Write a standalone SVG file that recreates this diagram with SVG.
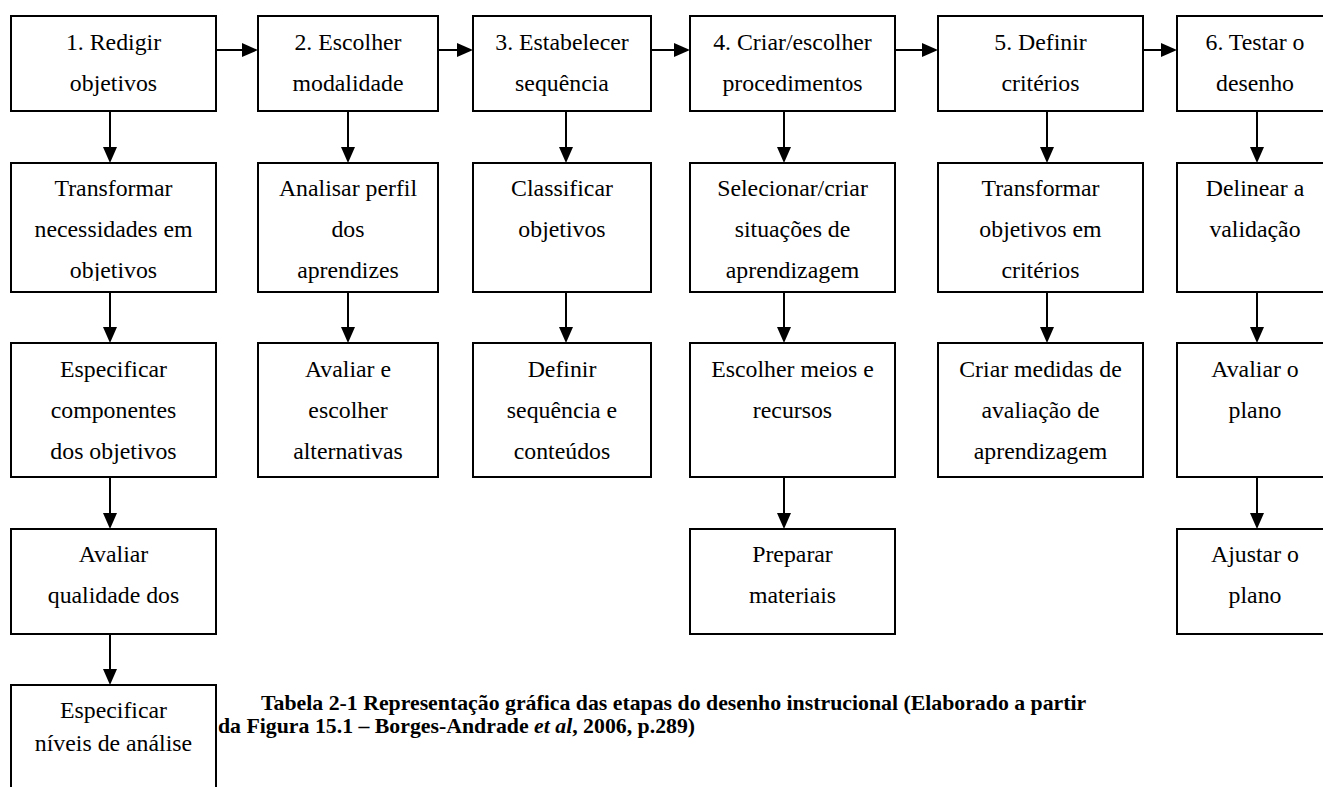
<svg xmlns="http://www.w3.org/2000/svg" width="1323" height="787" viewBox="0 0 1323 787">
<style>
.box{fill:#fff;stroke:#000;stroke-width:2}
.t{font-family:"Liberation Serif","Times New Roman",serif;font-size:23.8px;fill:#000;text-anchor:middle}
.cap{font-family:"Liberation Serif","Times New Roman",serif;font-size:21.8px;font-weight:bold;fill:#000}
.c{stroke:#000;stroke-width:2;fill:none;marker-end:url(#ah)}
</style>
<defs>
<marker id="ah" markerWidth="16" markerHeight="14" refX="6" refY="7" orient="auto" markerUnits="userSpaceOnUse"><path d="M0,0 L16,7 L0,14 z" fill="#000"/></marker>
<clipPath id="clipA"><rect x="11" y="163" width="205" height="118"/></clipPath>
</defs>
<rect width="1323" height="787" fill="#fff"/>

<g id="connectors">
<path class="c" d="M216,50 H248"/>
<path class="c" d="M438,50 H463"/>
<path class="c" d="M651,50 H680"/>
<path class="c" d="M895,50 H928"/>
<path class="c" d="M1143,50 H1167"/>
<path class="c" d="M110,111 V153"/>
<path class="c" d="M110,292 V333"/>
<path class="c" d="M110,477 V519"/>
<path class="c" d="M110,634 V675"/>
<path class="c" d="M348,111 V153"/>
<path class="c" d="M348,292 V333"/>
<path class="c" d="M566,111 V153"/>
<path class="c" d="M566,292 V333"/>
<path class="c" d="M784,111 V153"/>
<path class="c" d="M784,292 V333"/>
<path class="c" d="M784,477 V519"/>
<path class="c" d="M1047,111 V153"/>
<path class="c" d="M1047,292 V333"/>
<path class="c" d="M1257,111 V153"/>
<path class="c" d="M1257,292 V333"/>
<path class="c" d="M1257,477 V519"/>
</g>

<g id="n1"><rect class="box" x="11" y="16" width="205" height="95"/><text class="t" x="113.5" y="50">1. Redigir</text><text class="t" x="113.5" y="91">objetivos</text></g>
<g id="n2"><rect class="box" x="258" y="16" width="180" height="95"/><text class="t" x="348" y="50">2. Escolher</text><text class="t" x="348" y="91">modalidade</text></g>
<g id="n3"><rect class="box" x="473" y="16" width="178" height="95"/><text class="t" x="562" y="50">3. Estabelecer</text><text class="t" x="562" y="91">sequência</text></g>
<g id="n4"><rect class="box" x="690" y="16" width="205" height="95"/><text class="t" x="792.5" y="50">4. Criar/escolher</text><text class="t" x="792.5" y="91">procedimentos</text></g>
<g id="n5"><rect class="box" x="938" y="16" width="205" height="95"/><text class="t" x="1040.5" y="50">5. Definir</text><text class="t" x="1040.5" y="91">critérios</text></g>
<g id="n6"><rect class="box" x="1177" y="16" width="160" height="95"/><text class="t" x="1255" y="50">6. Testar o</text><text class="t" x="1255" y="91">desenho</text></g>

<g id="n1a"><rect class="box" x="11" y="163" width="205" height="129"/><g clip-path="url(#clipA)"><text class="t" x="113.5" y="196">Transformar</text><text class="t" x="113.5" y="237">necessidades em</text><text class="t" x="113.5" y="278">objetivos</text></g></g>
<g id="n2a"><rect class="box" x="258" y="163" width="180" height="129"/><text class="t" x="348" y="196">Analisar perfil</text><text class="t" x="348" y="237">dos</text><text class="t" x="348" y="278">aprendizes</text></g>
<g id="n3a"><rect class="box" x="473" y="163" width="178" height="129"/><text class="t" x="562" y="196">Classificar</text><text class="t" x="562" y="237">objetivos</text></g>
<g id="n4a"><rect class="box" x="690" y="163" width="205" height="129"/><text class="t" x="792.5" y="196">Selecionar/criar</text><text class="t" x="792.5" y="237">situações de</text><text class="t" x="792.5" y="278">aprendizagem</text></g>
<g id="n5a"><rect class="box" x="938" y="163" width="205" height="129"/><text class="t" x="1040.5" y="196">Transformar</text><text class="t" x="1040.5" y="237">objetivos em</text><text class="t" x="1040.5" y="278">critérios</text></g>
<g id="n6a"><rect class="box" x="1177" y="163" width="160" height="129"/><text class="t" x="1255" y="196">Delinear a</text><text class="t" x="1255" y="237">validação</text></g>

<g id="n1b"><rect class="box" x="11" y="343" width="205" height="134"/><text class="t" x="113.5" y="377">Especificar</text><text class="t" x="113.5" y="418">componentes</text><text class="t" x="113.5" y="459">dos objetivos</text></g>
<g id="n2b"><rect class="box" x="258" y="343" width="180" height="134"/><text class="t" x="348" y="377">Avaliar e</text><text class="t" x="348" y="418">escolher</text><text class="t" x="348" y="459">alternativas</text></g>
<g id="n3b"><rect class="box" x="473" y="343" width="178" height="134"/><text class="t" x="562" y="377">Definir</text><text class="t" x="562" y="418">sequência e</text><text class="t" x="562" y="459">conteúdos</text></g>
<g id="n4b"><rect class="box" x="690" y="343" width="205" height="134"/><text class="t" x="792.5" y="377">Escolher meios e</text><text class="t" x="792.5" y="418">recursos</text></g>
<g id="n5b"><rect class="box" x="938" y="343" width="205" height="134"/><text class="t" x="1040.5" y="377">Criar medidas de</text><text class="t" x="1040.5" y="418">avaliação de</text><text class="t" x="1040.5" y="459">aprendizagem</text></g>
<g id="n6b"><rect class="box" x="1177" y="343" width="160" height="134"/><text class="t" x="1255" y="377">Avaliar o</text><text class="t" x="1255" y="418">plano</text></g>

<g id="n1c"><rect class="box" x="11" y="529" width="205" height="105"/><text class="t" x="113.5" y="562">Avaliar</text><text class="t" x="113.5" y="603">qualidade dos</text></g>
<g id="n4c"><rect class="box" x="690" y="529" width="205" height="105"/><text class="t" x="792.5" y="562">Preparar</text><text class="t" x="792.5" y="603">materiais</text></g>
<g id="n6c"><rect class="box" x="1177" y="529" width="160" height="105"/><text class="t" x="1255" y="562">Ajustar o</text><text class="t" x="1255" y="603">plano</text></g>

<g id="n1d"><rect class="box" x="11" y="685" width="205" height="120"/><text class="t" x="113.5" y="718">Especificar</text><text class="t" x="113.5" y="751">níveis de análise</text></g>

<g id="caption">
<text class="cap" x="261" y="710">Tabela 2-1 Representação gráfica das etapas do desenho instrucional (Elaborado a partir</text>
<text class="cap" x="218" y="733">da Figura 15.1 – Borges-Andrade <tspan font-style="italic">et al</tspan>, 2006, p.289)</text>
</g>
</svg>
